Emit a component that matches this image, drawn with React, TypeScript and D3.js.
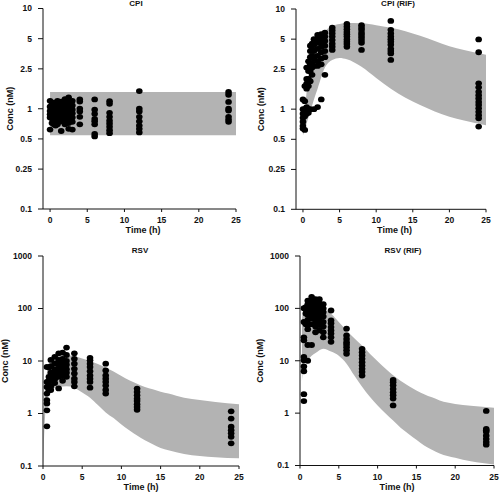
import React from "react";
import * as d3 from "d3";

// ---------- DATA ----------
const xTicks = [0, 5, 10, 15, 20, 25];
const yTicksCPI = [0.1, 0.25, 0.5, 1, 2.5, 5, 10];
const yTicksRSV = [0.1, 1, 10, 100, 1000];
const panelTitles = ["CPI", "CPI (RIF)", "RSV", "RSV (RIF)"];

// CPI prediction band
const cpiBandT = [0, 25];
const cpiBandLo = [0.545, 0.545];
const cpiBandHi = [1.47, 1.47];
// CPI observations
const cpiObsT = [0, 0.25, 0.5, 0.75, 1, 1.5, 2, 2.5, 3, 4, 6, 8, 12, 24];
const cpiObsC = [
  [1.2, 1.05, 0.95, 0.88, 0.82, 0.62],
  [1.1, 0.98, 0.9, 0.8, 0.72],
  [1.15, 1.02, 0.92, 0.85, 0.78, 0.7],
  [1.0, 0.9, 0.82, 0.74, 0.68],
  [1.2, 1.08, 0.96, 0.88, 0.8, 0.7],
  [1.18, 1.1, 1.0, 0.9, 0.82, 0.75, 0.6],
  [1.25, 1.12, 1.02, 0.95, 0.86, 0.78, 0.7],
  [1.3, 1.15, 1.05, 0.97, 0.88, 0.8, 0.72, 0.63],
  [1.2, 1.08, 0.98, 0.9, 0.82, 0.74, 0.62],
  [1.24, 1.18, 1.0, 0.94, 0.83, 0.7],
  [1.24, 0.98, 0.89, 0.79, 0.75, 0.7, 0.56, 0.53],
  [1.19, 1.12, 0.91, 0.83, 0.76, 0.71, 0.66, 0.61, 0.57],
  [1.5, 1.0, 0.94, 0.83, 0.75, 0.68, 0.63, 0.58],
  [1.47, 1.38, 1.17, 1.0, 0.96, 0.83, 0.78, 0.74],
];

// CPI (RIF) band
const cpiRifBandT = [0, 0.25, 0.5, 1, 1.5, 2, 3, 4, 5, 6, 8, 10, 12, 14, 16, 18, 20, 22, 25];
const cpiRifBandLo = [0.55, 0.62, 0.72, 0.95, 1.25, 1.6, 2.6, 3.1, 3.25, 3.15, 2.65, 2.05, 1.6, 1.3, 1.1, 0.95, 0.84, 0.77, 0.69];
const cpiRifBandHi = [0.58, 0.9, 1.5, 2.8, 3.9, 4.8, 6.0, 6.8, 7.1, 7.25, 7.2, 6.9, 6.5, 6.0, 5.4, 4.8, 4.25, 3.9, 3.5];
// CPI (RIF) observations
const cpiRifObsT = [0, 0.25, 0.5, 0.75, 1, 1.25, 1.5, 2, 2.5, 3, 4, 6, 8, 12, 24];
const cpiRifObsC = [
  [1.25, 1.0, 0.9, 0.82, 0.75, 0.68, 0.64],
  [1.7, 1.2, 1.0, 0.95, 0.85, 0.62],
  [2.6, 2.0, 1.8, 1.6, 1.05, 0.98, 0.9],
  [3.0, 2.4, 2.0, 1.7, 1.0, 0.92],
  [4.3, 3.8, 3.3, 2.8, 2.4, 1.9, 1.0],
  [4.5, 4.0, 3.4, 2.9, 2.6, 2.2],
  [5.0, 4.4, 3.8, 3.2, 2.7, 1.0],
  [5.5, 5.0, 4.6, 4.0, 3.4, 3.0, 2.7, 1.05],
  [5.6, 5.2, 4.7, 4.2, 3.7, 3.2, 2.8, 1.25],
  [5.8, 5.3, 4.8, 4.3, 3.8, 3.3, 2.2],
  [6.5, 6.1, 5.7, 5.3, 4.9, 4.5, 4.2, 3.9],
  [7.08, 6.66, 6.26, 5.9, 5.6, 5.3, 4.97, 4.7, 4.47, 4.2],
  [6.9, 6.5, 6.2, 5.8, 5.5, 5.2, 4.9, 4.6, 3.9],
  [7.6, 6.2, 5.7, 5.3, 5.0, 4.7, 4.4, 4.0, 3.8, 3.6, 3.1],
  [4.97, 3.7, 1.81, 1.65, 1.49, 1.38, 1.28, 1.18, 1.1, 1.02, 0.94, 0.87, 0.81, 0.67],
];

// RSV band
const rsvBandT = [0, 0.25, 0.5, 1, 2, 3, 4, 5, 6, 7, 8, 9, 10, 11, 12, 13, 14, 15, 16, 18, 20, 22, 25];
const rsvBandLo = [0.1, 0.8, 1.8, 2.8, 3.2, 3.3, 3.1, 2.5, 2.0, 1.45, 1.05, 0.82, 0.62, 0.48, 0.38, 0.31, 0.26, 0.22, 0.2, 0.17, 0.155, 0.147, 0.14];
const rsvBandHi = [0.15, 3, 6, 9.5, 12.5, 13, 12.3, 11.2, 10, 8.8, 7.5, 6.3, 5.2, 4.3, 3.7, 3.2, 2.9, 2.6, 2.4, 2.0, 1.8, 1.65, 1.5];
// RSV observations
const rsvObsT = [0.5, 0.75, 1, 1.5, 2, 2.5, 3, 4, 6, 8, 12, 24];
const rsvObsC = [
  [7.7, 4.0, 3.2, 2.4, 1.8, 1.55, 1.15, 0.57],
  [7.5, 5.0, 4.2, 3.5, 2.8],
  [10.5, 8, 6, 5, 4.2, 3.3, 2.8],
  [12, 9, 7, 5.5, 4.5, 3.8],
  [14, 10.5, 8.5, 7, 6, 5, 3.0],
  [14.5, 11, 9, 7.5, 6.3, 5.2, 4.2],
  [18, 13, 10, 8.5, 7, 6, 5],
  [14, 11, 8.9, 7.1, 5.8, 4.6, 4.0, 3.3],
  [11.5, 10.3, 8.9, 7.7, 6.4, 5.3, 4.6, 4.0, 3.1],
  [8.9, 6.6, 5.3, 4.6, 4.0, 3.4, 2.8, 2.4],
  [2.98, 2.58, 2.22, 1.92, 1.73, 1.5, 1.33, 1.18],
  [1.1, 0.8, 0.56, 0.48, 0.42, 0.36, 0.27],
];

// RSV (RIF) band
const rsvRifBandT = [0.25, 0.5, 1, 1.5, 2, 3, 4, 5, 6, 7, 8, 9, 10, 11, 12, 13, 14, 15, 16, 17, 18, 20, 22, 25];
const rsvRifBandLo = [4, 9, 10.5, 12.5, 14, 17, 15, 12.5, 8.8, 5.2, 3.2, 2.05, 1.4, 1.0, 0.72, 0.52, 0.4, 0.31, 0.24, 0.2, 0.17, 0.14, 0.12, 0.105];
const rsvRifBandHi = [60, 110, 125, 128, 120, 100, 79, 55, 38, 27, 19.5, 13.6, 9.8, 7.1, 5.3, 4.1, 3.3, 2.7, 2.3, 2.0, 1.75, 1.5, 1.38, 1.27];
// RSV (RIF) observations
const rsvRifObsT = [0.5, 0.75, 1, 1.5, 2, 2.5, 3, 4, 6, 8, 12, 24];
const rsvRifObsC = [
  [101, 55, 28, 24.5, 11.8, 10.2, 7.8, 6.3, 2.3, 1.7],
  [105, 95, 80, 50],
  [140, 120, 100, 85, 75, 60, 48, 40, 20, 10],
  [165, 140, 115, 95, 80, 65, 50, 20],
  [150, 130, 110, 95, 80, 65, 55, 45, 35],
  [150, 125, 100, 85, 70, 58, 48, 38],
  [120, 100, 85, 70, 55, 45, 35, 28],
  [91, 59, 52, 44, 38, 33, 28, 23],
  [41, 30.5, 26, 22.6, 20.5, 18.2, 15.8, 13.6],
  [16.9, 14.6, 12.6, 10.9, 9.4, 8.1, 7.0, 6.1, 5.2],
  [4.3, 3.9, 3.4, 2.9, 2.5, 2.2, 1.9, 1.4],
  [1.1, 0.5, 0.47, 0.44, 0.37, 0.32, 0.28, 0.25],
];

// ---------- LAYOUT ----------
const FONT = '"Liberation Sans", Arial, Helvetica, sans-serif';
const BAND = "#b3b3b3";
const INK = "#111";

type Layout = {
  xr: [number, number];
  xd: [number, number];
  yr: [number, number];
  yd: [number, number];
  titleX: number;
  titleY: number;
  ylabX: number;
};

const layouts: Layout[] = [
  { xr: [43, 236], xd: [-0.95, 25], yr: [209, 8.5], yd: [0.1, 10], titleX: 136, titleY: 5.5, ylabX: 13 },
  { xr: [296, 486], xd: [-0.95, 25], yr: [209.3, 9], yd: [0.1, 10], titleX: 398, titleY: 5.5, ylabX: 264 },
  { xr: [43, 239], xd: [0, 25], yr: [466, 256], yd: [0.1, 1000], titleX: 140, titleY: 252.5, ylabX: 7.5 },
  { xr: [300, 494], xd: [0, 25], yr: [465.5, 256], yd: [0.1, 1000], titleX: 403, titleY: 252.5, ylabX: 263 },
];

function fmt(v: number) {
  return String(v);
}

function Panel(props: {
  L: Layout;
  title: string;
  yTicks: number[];
  bandT: number[];
  bandLo: number[];
  bandHi: number[];
  obsT: number[];
  obsC: number[][];
}) {
  const { L, title, yTicks, bandT, bandLo, bandHi, obsT, obsC } = props;
  const x = d3.scaleLinear().domain(L.xd).range(L.xr);
  const y = d3.scaleLog().domain(L.yd).range(L.yr);
  const band = bandT.map((t, i) => ({ t, lo: bandLo[i], hi: bandHi[i] }));
  const area = d3
    .area<{ t: number; lo: number; hi: number }>()
    .x((d) => x(d.t))
    .y0((d) => y(d.lo))
    .y1((d) => y(d.hi))
    .curve(d3.curveMonotoneX);
  const pts: { t: number; c: number }[] = [];
  obsT.forEach((t, i) => obsC[i].forEach((c) => pts.push({ t, c })));
  const axisX0 = L.xr[0];
  const axisY = L.yr[0];
  const yTop = y(L.yd[1]);
  const midY = (L.yr[0] + L.yr[1]) / 2;
  const midX = (x(0) + x(25)) / 2;
  return (
    <g>
      <path d={area(band) || ""} fill={BAND} />
      {pts.map((p, i) => (
        <ellipse key={i} cx={x(p.t)} cy={y(p.c)} rx={3.3} ry={2.9} fill="#000" />
      ))}
      {/* y axis */}
      <line x1={axisX0} x2={axisX0} y1={yTop} y2={axisY} stroke={INK} strokeWidth={1} />
      {yTicks.map((v) => (
        <g key={v}>
          <line x1={axisX0 - 5} x2={axisX0} y1={y(v)} y2={y(v)} stroke={INK} strokeWidth={1} />
          <text
            x={axisX0 - 11}
            y={y(v)}
            dy="0.35em"
            textAnchor="end"
            fontSize={8.5}
            fontWeight="bold"
            fontFamily={FONT}
            fill={INK}
          >
            {fmt(v)}
          </text>
        </g>
      ))}
      {/* x axis */}
      <line x1={axisX0} x2={x(25)} y1={axisY} y2={axisY} stroke={INK} strokeWidth={1} />
      {xTicks.map((v) => (
        <g key={v}>
          <line x1={x(v)} x2={x(v)} y1={axisY} y2={axisY + 3} stroke={INK} strokeWidth={1} />
          <text
            x={x(v)}
            y={axisY + 14}
            textAnchor="middle"
            fontSize={8.5}
            fontWeight="bold"
            fontFamily={FONT}
            fill={INK}
          >
            {v}
          </text>
        </g>
      ))}
      <text
        x={midX}
        y={axisY + 24}
        textAnchor="middle"
        fontSize={9}
        fontWeight="bold"
        fontFamily={FONT}
        fill={INK}
      >
        Time (h)
      </text>
      <text
        transform={`translate(${L.ylabX},${midY}) rotate(-90)`}
        textAnchor="middle"
        fontSize={9}
        fontWeight="bold"
        fontFamily={FONT}
        fill={INK}
      >
        Conc (nM)
      </text>
      <text
        x={L.titleX}
        y={L.titleY}
        textAnchor="middle"
        fontSize={8}
        fontWeight="bold"
        fontFamily={FONT}
        fill={INK}
      >
        {title}
      </text>
    </g>
  );
}

export default function App() {
  return (
    <svg
      width={500}
      height={494}
      style={{ position: "absolute", left: 0, top: 0, background: "#fff" }}
    >
      <Panel L={layouts[0]} title={panelTitles[0]} yTicks={yTicksCPI} bandT={cpiBandT} bandLo={cpiBandLo} bandHi={cpiBandHi} obsT={cpiObsT} obsC={cpiObsC} />
      <Panel L={layouts[1]} title={panelTitles[1]} yTicks={yTicksCPI} bandT={cpiRifBandT} bandLo={cpiRifBandLo} bandHi={cpiRifBandHi} obsT={cpiRifObsT} obsC={cpiRifObsC} />
      <Panel L={layouts[2]} title={panelTitles[2]} yTicks={yTicksRSV} bandT={rsvBandT} bandLo={rsvBandLo} bandHi={rsvBandHi} obsT={rsvObsT} obsC={rsvObsC} />
      <Panel L={layouts[3]} title={panelTitles[3]} yTicks={yTicksRSV} bandT={rsvRifBandT} bandLo={rsvRifBandLo} bandHi={rsvRifBandHi} obsT={rsvRifObsT} obsC={rsvRifObsC} />
    </svg>
  );
}
